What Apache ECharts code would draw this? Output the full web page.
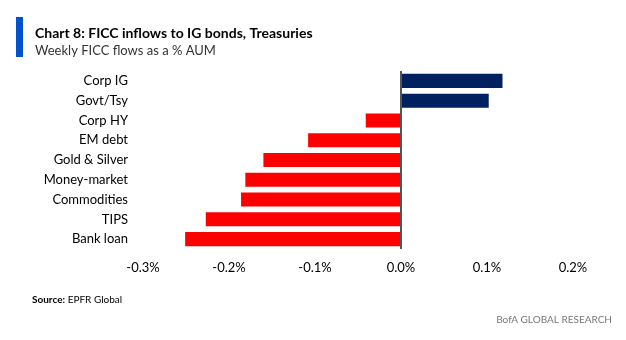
<!DOCTYPE html>
<html>
<head>
<meta charset="utf-8">
<script src="https://cdn.jsdelivr.net/npm/echarts@6/dist/echarts.min.js"></script>
<style>html,body{margin:0;padding:0;background:#fff}#c{width:626px;height:340px}</style>
</head>
<body>
<div id="c"></div>
<script>
const categories = ['Corp IG','Govt/Tsy','Corp HY','EM debt','Gold & Silver','Money-market','Commodities','TIPS','Bank loan'];
const flows = [0.118, 0.102, -0.041, -0.108, -0.160, -0.181, -0.186, -0.227, -0.251];
const tickValues = [-0.3, -0.2, -0.1, 0.0, 0.1, 0.2];

const chart = echarts.init(document.getElementById('c'));
const font = 'Lato';
chart.setOption({
  animation: false,
  textStyle: { fontFamily: font },
  title: {
    text: 'Chart 8: FICC inflows to IG bonds, Treasuries',
    subtext: 'Weekly FICC flows as a % AUM',
    left: 30, top: 21,
    itemGap: 4,
    textStyle: { fontFamily: font, fontWeight: 'bold', fontSize: 14, color: '#000' },
    subtextStyle: { fontFamily: font, fontSize: 13, color: '#333' }
  },
  graphic: [
    { type: 'rect', shape: { x: 16, y: 17, width: 7, height: 40 }, style: { fill: '#0052cc' } },
    { type: 'text', left: 32, top: 295, style: {
        text: '{b|Source:} EPFR Global',
        rich: { b: { fontWeight: 'bold', fontSize: 10, fontFamily: font, fill: '#000' } },
        fontSize: 10, fontFamily: font, fill: '#000' } },
    { type: 'text', right: 14, top: 315, style: {
        text: 'BofA GLOBAL RESEARCH', fontSize: 10, fontFamily: font, fill: '#777' } }
  ],
  grid: { left: 143, right: 53, top: 71, height: 178, containLabel: false },
  xAxis: {
    type: 'value', min: -0.3, max: 0.2, interval: 0.1,
    axisLine: { show: false }, axisTick: { show: false }, splitLine: { show: false },
    axisLabel: { color: '#000', fontSize: 13, margin: 12,
      formatter: v => v.toFixed(1) + '%', showMinLabel: true, showMaxLabel: true }
  },
  yAxis: {
    type: 'category', data: categories, inverse: true,
    axisLine: { show: false }, axisTick: { show: false },
    axisLabel: { color: '#000', fontSize: 13, margin: 15 }
  },
  series: [{
    type: 'bar',
    data: flows.map(v => ({ value: v, itemStyle: { color: v >= 0 ? '#002060' : '#ff0000' } })),
    barCategoryGap: '29%',
    markLine: {
      silent: true, symbol: 'none', label: { show: false },
      lineStyle: { color: '#555', width: 2, type: 'solid' },
      data: [{ xAxis: 0 }]
    }
  }]
});
</script>
</body>
</html>
